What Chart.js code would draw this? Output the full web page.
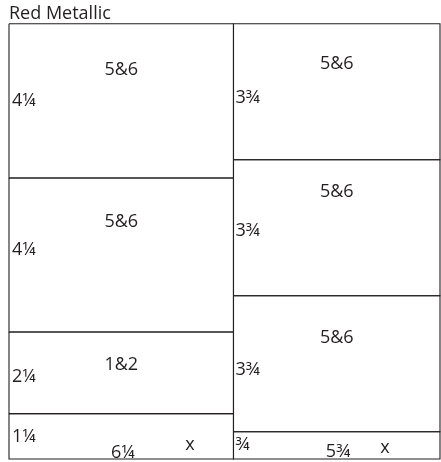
<!DOCTYPE html>
<html>
<head>
<meta charset="utf-8">
<script src="https://cdn.jsdelivr.net/npm/chart.js@4.4.1/dist/chart.umd.min.js"></script>
<style>
  html, body { margin: 0; padding: 0; background: #fff; }
  #wrap { width: 441px; height: 462px; position: relative; }
</style>
</head>
<body>
<div id="wrap"><canvas id="sheet"></canvas></div>
<script>
// 12 x 12 sheet cut in two columns, sizes in inches
const columnWidths = [6.25, 5.75];
const leftHeights = [4.25, 4.25, 2.25, 1.25];
const rightHeights = [3.75, 3.75, 3.75, 0.75];
const leftParts = ['5&6', '5&6', '1&2', ''];
const rightParts = ['5&6', '5&6', '5&6', ''];
const leftSizes = ['4¼', '4¼', '2¼', '1¼'];
const rightSizes = ['3¾', '3¾', '3¾', '¾'];
const widthLabels = ['6¼', '5¾'];
const scrapMarks = ['x', 'x'];

// where the text sits (inches): baseline below top of each piece
const leftPartDrop = [1.41, 1.35, 1.05];
const rightPartDrop = [1.24, 1.02, 1.30];
const leftSizeDrop = [2.26, 2.12, 1.38, 0.77];
const rightSizeDrop = [2.18, 2.10, 2.18, 0.50];
const widthLabelX = [3.17, 9.16];
const widthLabelY = [11.97, 11.94];
const scrapX = [5.04, 10.47];
const scrapY = [11.74, 11.83];

const INK = '#231f20';
const FONT = '18px "Open Sans", sans-serif';

const columns = [
  { heights: leftHeights, parts: leftParts, sizes: leftSizes, partDrop: leftPartDrop, sizeDrop: leftSizeDrop, pad: 3 },
  { heights: rightHeights, parts: rightParts, sizes: rightSizes, partDrop: rightPartDrop, sizeDrop: rightSizeDrop, pad: 2 },
];

const datasets = [];
let colLeft = 0;
columns.forEach((col, c) => {
  const colRight = colLeft + columnWidths[c];
  let top = 0;
  col.heights.forEach(h => {
    const bottom = top + h;
    datasets.push({
      data: [
        { x: colLeft, y: top }, { x: colRight, y: top },
        { x: colRight, y: bottom }, { x: colLeft, y: bottom }, { x: colLeft, y: top },
      ],
      showLine: true,
      borderColor: INK,
      borderWidth: 1.1,
      pointRadius: 0,
      tension: 0,
      fill: false,
      clip: false,
    });
    top = bottom;
  });
  col.left = colLeft;
  col.right = colRight;
  colLeft = colRight;
});

const pieceText = {
  id: 'pieceText',
  afterDatasetsDraw(chart) {
    const { ctx, scales: { x, y } } = chart;
    ctx.save();
    ctx.fillStyle = INK;
    ctx.font = FONT;
    ctx.textBaseline = 'alphabetic';
    columns.forEach((col, c) => {
      let top = 0;
      col.heights.forEach((h, i) => {
        if (col.parts[i]) {
          ctx.textAlign = 'center';
          ctx.fillText(col.parts[i], x.getPixelForValue((col.left + col.right) / 2), y.getPixelForValue(top + col.partDrop[i]));
        }
        ctx.textAlign = 'left';
        ctx.fillText(col.sizes[i], x.getPixelForValue(col.left) + col.pad, y.getPixelForValue(top + col.sizeDrop[i]));
        top += h;
      });
      ctx.textAlign = 'center';
      ctx.fillText(widthLabels[c], x.getPixelForValue(widthLabelX[c]), y.getPixelForValue(widthLabelY[c]));
      ctx.fillText(scrapMarks[c], x.getPixelForValue(scrapX[c]), y.getPixelForValue(scrapY[c]));
    });
    ctx.restore();
  }
};

new Chart(document.getElementById('sheet').getContext('2d'), {
  type: 'scatter',
  data: { datasets },
  options: {
    responsive: true,
    maintainAspectRatio: false,
    animation: false,
    layout: { padding: { left: 9, right: 1, top: 0, bottom: 3 } },
    scales: {
      x: { type: 'linear', min: 0, max: 12, display: false },
      y: { type: 'linear', min: 0, max: 12, reverse: true, display: false },
    },
    plugins: {
      legend: { display: false },
      tooltip: { enabled: false },
      title: {
        display: true,
        text: 'Red Metallic',
        align: 'start',
        color: INK,
        font: { family: '"Open Sans", sans-serif', size: 18, weight: 'normal', lineHeight: 1.1 },
        padding: { top: 4, bottom: 0 },
      },
    },
  },
  plugins: [pieceText],
});
</script>
</body>
</html>
